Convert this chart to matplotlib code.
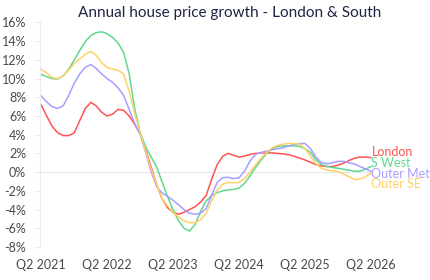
import numpy as np
import pandas as pd
import matplotlib
matplotlib.use('Agg')
import matplotlib.pyplot as plt

plt.rcParams['font.family'] = ['Lato', 'DejaVu Sans']

# monthly series, Q2 2021 .. Q2 2026 (annual % change)
months = pd.date_range('2021-05-01', periods=61, freq='MS')

london = [7.2, 6.0, 4.9, 4.2, 3.9, 3.9, 4.2, 5.5, 6.8, 7.45,
          7.1, 6.4, 6.0, 6.2, 6.7, 6.6, 6.0, 5.1, 4.1, 2.4,
          0.5, -1.4, -2.8, -3.8, -4.3, -4.5, -4.3, -4.0, -3.7, -3.2,
          -2.5, -0.8, 0.8, 1.7, 2.0, 1.8, 1.6, 1.7, 1.9, 2.0,
          2.05, 2.05, 2.05, 2.0, 1.95, 1.85, 1.7, 1.5, 1.3, 1.05,
          0.8, 0.65, 0.6, 0.6, 0.75, 0.95, 1.25, 1.5, 1.6, 1.6, 1.55]

s_west = [10.45, 10.2, 10.0, 9.95, 10.3, 11.0, 12.0, 13.0, 13.95, 14.6,
          14.9, 15.0, 14.8, 14.4, 13.8, 12.8, 10.5, 6.8, 4.2, 2.7,
          1.6, 0.5, -1.0, -2.6, -4.0, -5.2, -6.0, -6.3, -5.6, -4.2,
          -3.1, -2.5, -2.2, -2.0, -1.9, -1.85, -1.7, -1.2, -0.4, 0.5,
          1.3, 2.0, 2.5, 2.75, 2.8, 2.8, 2.8, 2.75, 2.5, 2.1,
          1.3, 0.8, 0.6, 0.5, 0.4, 0.3, 0.2, 0.1, 0.1, 0.3, 0.6]

outer_met = [8.15, 7.5, 7.0, 6.8, 7.1, 8.2, 9.5, 10.5, 11.2, 11.5,
             11.1, 10.5, 10.0, 9.6, 9.0, 8.2, 6.7, 5.2, 4.0, 2.1,
             0.0, -1.6, -2.2, -2.6, -3.0, -3.5, -4.0, -4.4, -4.5, -4.4,
             -3.9, -2.5, -1.1, -0.6, -0.55, -0.7, -0.6, 0.1, 1.2, 1.9,
             2.1, 2.25, 2.4, 2.5, 2.6, 2.8, 2.95, 3.05, 3.05, 2.5,
             1.6, 1.0, 0.9, 1.0, 1.15, 1.15, 1.0, 0.85, 0.6, 0.35, 0.1]

outer_se = [11.0, 10.6, 10.1, 10.0, 10.3, 10.9, 11.6, 12.1, 12.6, 12.9,
            12.5, 11.7, 11.2, 11.0, 10.9, 10.5, 8.6, 6.3, 4.2, 2.2,
            0.3, -1.4, -2.8, -3.6, -4.3, -4.8, -5.2, -5.4, -5.4, -5.1,
            -4.4, -3.1, -1.9, -1.3, -1.1, -1.15, -1.1, -0.7, 0.0, 0.8,
            1.5, 2.1, 2.6, 2.85, 3.0, 3.05, 3.05, 3.0, 2.5, 1.7,
            0.9, 0.4, 0.2, 0.15, 0.05, -0.2, -0.5, -0.8, -0.75, -0.5, -0.1]

names = ['London', 'S West', 'Outer Met', 'Outer SE']
series = [london, s_west, outer_met, outer_se]
colors = ['#ff5252', '#5fd88e', '#a99cff', '#ffd166']

tick_labels = ['Q2 2021', 'Q2 2022', 'Q2 2023', 'Q2 2024', 'Q2 2025', 'Q2 2026']
tick_dates = months[::12]

fig = plt.figure(figsize=(4.3, 2.8), dpi=100)
ax = fig.add_axes([0.093, 0.118, 0.772, 0.802])

for name, vals, c in zip(names, series, colors):
    ax.plot(months, vals, color=c, lw=1.1, label=name)

# end labels stacked under the London label
y0 = london[-1] + 0.6
for i, (name, c) in enumerate(zip(names, colors)):
    ax.text(months[-1] + pd.Timedelta(days=3), y0 - i * 1.15, name, color=c,
            fontsize=9, va='center', ha='left', clip_on=False)

ax.set_xlim(months[0] - pd.Timedelta(days=6), months[-1] + pd.Timedelta(days=6))
ax.set_ylim(-8, 16)
ax.set_yticks(np.arange(-8, 17, 2))
ax.set_yticklabels([f'{v}%' for v in range(-8, 17, 2)])
ax.set_xticks(tick_dates)
ax.set_xticklabels(tick_labels)

ax.axhline(0, color='#e8e8e8', lw=0.8, zorder=0)
for s in ['top', 'right', 'bottom']:
    ax.spines[s].set_visible(False)
ax.spines['left'].set_color('#ececec')
ax.tick_params(axis='y', length=4, color='#ececec', labelsize=9, labelcolor='#4a4a4a', pad=6)
ax.tick_params(axis='x', length=0, labelsize=9, labelcolor='#4a4a4a', pad=9)

fig.text(0.535, 0.955, 'Annual house price growth - London & South', ha='center',
         va='center', fontsize=11, color='#1f2345')

fig.savefig('out.png', dpi=100)
